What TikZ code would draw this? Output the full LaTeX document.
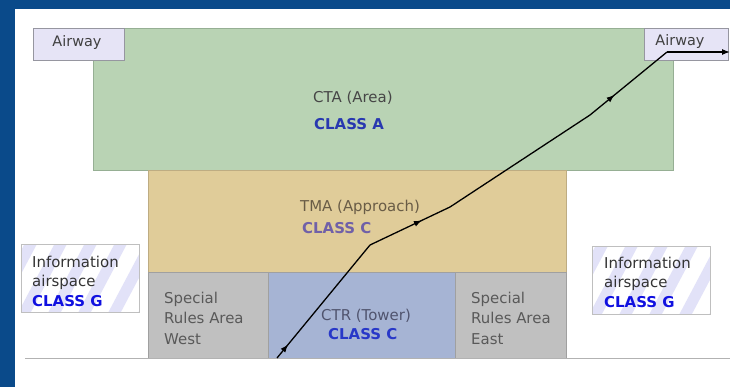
\documentclass[tikz,border=0pt]{standalone}
\usepackage{fontspec}
\setmainfont{DejaVu Sans}
\usetikzlibrary{arrows.meta,decorations.markings}
\definecolor{bgblue}{RGB}{10,74,138}
\definecolor{ctagreen}{RGB}{185,211,180}
\definecolor{ctaedge}{RGB}{150,175,148}
\definecolor{tmatan}{RGB}{224,204,153}
\definecolor{tmaedge}{RGB}{190,172,130}
\definecolor{srgray}{RGB}{192,192,192}
\definecolor{sredge}{RGB}{160,160,160}
\definecolor{ctrblue}{RGB}{166,180,212}
\definecolor{awfill}{RGB}{230,228,246}
\definecolor{awedge}{RGB}{150,150,160}
\definecolor{stripe}{RGB}{226,226,248}
\definecolor{classA}{RGB}{40,56,176}
\definecolor{classCt}{RGB}{112,96,168}
\definecolor{classCc}{RGB}{40,56,200}
\definecolor{classG}{RGB}{16,16,224}
\definecolor{txtgray}{RGB}{70,70,70}
\definecolor{tmatxt}{RGB}{105,92,70}
\definecolor{ctrtxt}{RGB}{80,84,110}
\tikzset{
  zone/.style={draw=#1, line width=0.8bp, inner sep=0, outer sep=0},
  lbl/.style={font=\fontsize{15}{20.5}\selectfont, inner sep=0, text=txtgray, align=left},
  cls/.style={font=\fontsize{15}{20.5}\selectfont\bfseries, inner sep=0},
  infotxt/.style={lbl, anchor=north west, text=black!80, font=\fontsize{15}{19.5}\selectfont},
  flight/.style={line width=1.3bp, black},
  midarrow/.style={postaction={decorate}, decoration={markings, mark=at position #1 with {\arrow{Latex[length=8bp,width=6bp]}}}}
}
\begin{document}
\begin{tikzpicture}[x=1bp,y=-1bp]
\useasboundingbox (0,0) rectangle (730,387);
\fill[white] (0,0) rectangle (730,387);
\fill[bgblue] (0,0) rectangle (15,387);
\fill[bgblue] (0,0) rectangle (730,9);

% zones
\node (cta) [zone=ctaedge, fill=ctagreen, minimum width=580bp, minimum height=142bp] at (383,99) {};
\node (tma) [zone=tmaedge, fill=tmatan, minimum width=418bp, minimum height=102bp] at (357,221) {};
\node (srw) [zone=sredge, fill=srgray, minimum width=120bp, minimum height=86bp] at (208,315) {};
\node (ctr) [zone=sredge, fill=ctrblue, minimum width=187bp, minimum height=86bp] at (361.5,315) {};
\node (sre) [zone=sredge, fill=srgray, minimum width=111bp, minimum height=86bp] at (510.5,315) {};

% airways
\node (awl) [zone=awedge, fill=awfill, minimum width=91bp, minimum height=32bp] at (78.5,44) {};
\node (awr) [zone=awedge, fill=awfill, minimum width=84bp, minimum height=32bp] at (686,44) {};
\node[lbl, text=black!75, font=\fontsize{14.5}{16}\selectfont] (awlt) at (77,43) {Airway};
\node[lbl, text=black!75, font=\fontsize{14.5}{16}\selectfont] (awrt) at (680,42) {Airway};

% ground line
\coordinate (g0) at (25,358.5);
\coordinate (g1) at (730,358.5);
\draw[line width=1.5bp, black!30] (g0) -- (g1);

% information boxes
\foreach \nm/\xa/\ya in {infl/21/244, infr/592/246}{
  \begin{scope}
    \clip (\xa,\ya) rectangle ++(118,68);
    \fill[white] (\xa,\ya) rectangle ++(118,68);
    \foreach \k in {-3,...,6}{
      \draw[stripe, line width=11bp] (\xa+\k*30,\ya+75) -- ++(45,-85);
    }
  \end{scope}
  \node (\nm) [zone=black!25, minimum width=118bp, minimum height=68bp, anchor=north west] at (\xa,\ya) {};
}

% labels
\node[lbl, anchor=west] (ctat) at (313,98) {CTA (Area)};
\node[cls, anchor=west, text=classA] (ctac) at (314,124.5) {CLASS A};
\node[lbl, anchor=west, text=tmatxt] (tmat) at (300,207) {TMA (Approach)};
\node[cls, anchor=west, text=classCt] (tmac) at (302,228) {CLASS C};
\node[lbl, anchor=west, text=ctrtxt] (ctrt) at (321,316) {CTR (Tower)};
\node[cls, anchor=west, text=classCc] (ctrc) at (328,334) {CLASS C};
\node[lbl, anchor=north west, text=black!65] (srwt) at (164,292) {Special\\Rules Area\\West};
\node[lbl, anchor=north west, text=black!65] (sret) at (471,292) {Special\\Rules Area\\East};
\node[infotxt] (inflt) at (32,256) {Information\\airspace\\\textcolor{classG}{\bfseries CLASS G}};
\node[infotxt] (infrt) at (604,257) {Information\\airspace\\\textcolor{classG}{\bfseries CLASS G}};

% flight path
\coordinate (p0) at (277,358);
\coordinate (p1) at (370,245);
\coordinate (p2) at (450,207);
\coordinate (p3) at (590,115);
\coordinate (p4) at (667,52);
\coordinate (p5) at (730,52);
\draw[flight, midarrow=0.12] (p0) -- (p1);
\draw[flight, midarrow=0.65] (p1) -- (p2);
\draw[flight] (p2) -- (p3);
\draw[flight, midarrow=0.32] (p3) -- (p4);
\draw[flight, -{Latex[length=8bp,width=6bp]}] (p4) -- (p5);
\end{tikzpicture}
\end{document}
